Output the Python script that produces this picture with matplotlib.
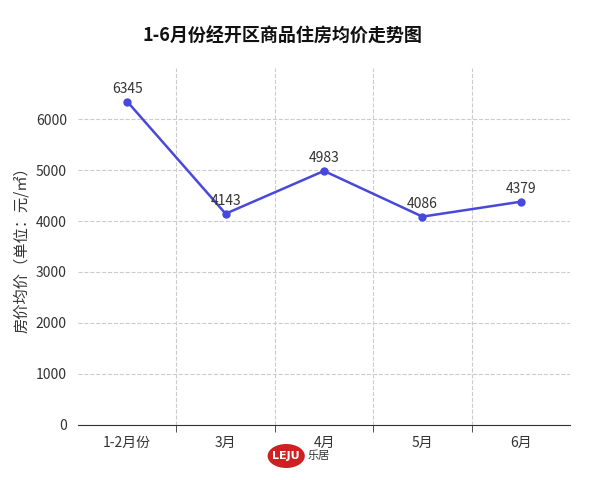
import matplotlib
matplotlib.use("Agg")
import matplotlib.pyplot as plt
from matplotlib.patches import Ellipse

plt.rcParams['font.family'] = ['Noto Sans CJK SC', 'DejaVu Sans']

categories = ['1-2月份', '3月', '4月', '5月', '6月']
values = [6345, 4143, 4983, 4086, 4379]

fig = plt.figure(figsize=(6, 4.8), dpi=100)
ax = fig.add_axes([0.13, 0.115, 0.82, 0.743])
x = list(range(len(categories)))
ax.plot(x, values, color='#4848dd', lw=1.8, marker='o', ms=5, zorder=3)
for xi, v in zip(x, values):
    ax.annotate(str(v), (xi, v), xytext=(0, 4), textcoords='offset points',
                ha='center', va='bottom', fontsize=10, color='#333333')
ax.set_xlim(-0.5, 4.5)
ax.set_ylim(0, 7000)
ax.set_yticks(range(0, 7000, 1000))
ax.set_xticks(x)
ax.set_xticklabels(categories)
ax.set_xticks([i + 0.5 for i in range(4)], minor=True)
ax.tick_params(axis='x', which='major', length=0, labelsize=10, colors='#333333', pad=8)
ax.tick_params(axis='x', which='minor', length=5, color='#333333')
ax.tick_params(axis='y', length=0, labelsize=10, colors='#333333', pad=8)
ax.grid(axis='y', ls='--', color='#cccccc', lw=0.8)
ax.grid(axis='x', which='minor', ls='--', color='#cccccc', lw=0.8)
for s in ['top', 'right', 'left']:
    ax.spines[s].set_visible(False)
ax.spines['bottom'].set_color('#333333')
ax.set_ylabel('房价均价（单位：元/㎡）', fontsize=11, color='#333333')
fig.text(0.47, 0.925, '1-6月份经开区商品住房均价走势图', ha='center', va='center',
         fontsize=13, fontweight='bold', color='#111111')
# logo
fig.patches.append(Ellipse((0.477, 0.05), 0.062, 0.05, transform=fig.transFigure,
                           facecolor='#cc2222', edgecolor='none'))
fig.text(0.477, 0.05, 'LEJU', ha='center', va='center', fontsize=8,
         fontweight='bold', color='white', family='DejaVu Sans')
fig.text(0.512, 0.05, '乐居', ha='left', va='center', fontsize=8, color='#333333')
fig.savefig('out.png', dpi=100)
